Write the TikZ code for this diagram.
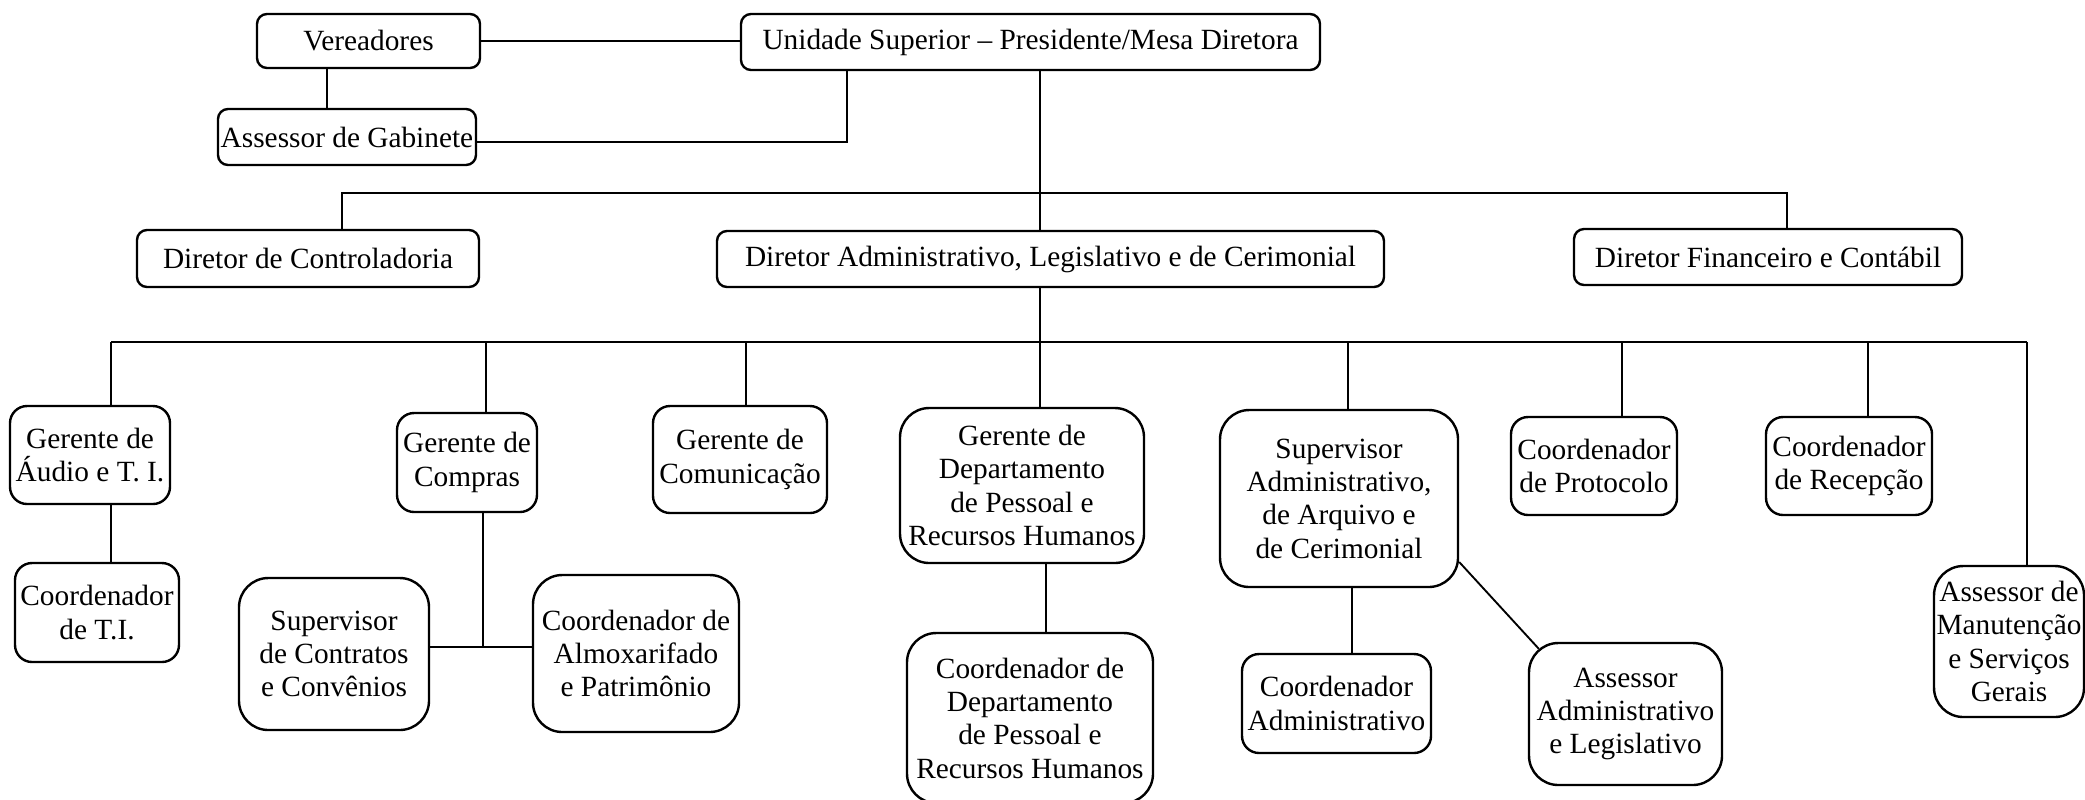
\documentclass[tikz,border=0pt]{standalone}
\usepackage{fontspec}
\setmainfont{Liberation Serif}
\usetikzlibrary{calc}
\newcommand{\bnode}[7]{%
  \pgfmathsetmacro{\bcx}{(#3+#5)/2}\pgfmathsetmacro{\bcy}{(#4+#6)/2}%
  \pgfmathsetmacro{\bw}{(#5-#3)*0.375}\pgfmathsetmacro{\bh}{(#6-#4)*0.375}%
  \node[bx,#2,minimum width=\bw pt,minimum height=\bh pt] (#1) at (\bcx,\bcy) {#7};}
\begin{document}
\begin{tikzpicture}[x=0.375pt,y=-0.375pt,
  bx/.style={draw, line width=0.9pt, fill=white, inner sep=0pt, align=center, font=\fontsize{11}{12.5}\selectfont},
  r1/.style={rounded corners=3.75pt},
  r2/.style={rounded corners=6.4pt},
  r3/.style={rounded corners=11pt},
  ln/.style={line width=0.7pt}]
\useasboundingbox (0,0) rectangle (2085,799);
% boxes
\bnode{ver}{r1}{257}{14}{480}{68}{Vereadores}
\bnode{uni}{r1}{741}{14}{1320}{70}{Unidade Superior -- Presidente/Mesa Diretora}
\bnode{ass}{r1}{218}{109}{476}{165}{Assessor de Gabinete}
\bnode{ctrl}{r1}{137}{230}{479}{287}{Diretor de Controladoria}
\bnode{adm}{r1}{717}{231}{1384}{287}{Diretor Administrativo, Legislativo e de Cerimonial}
\bnode{fin}{r1}{1574}{229}{1962}{285}{Diretor Financeiro e Contábil}
\bnode{gaud}{r2}{10}{406}{170}{504}{Gerente de\\Áudio e T. I.}
\bnode{cti}{r2}{15}{563}{179}{662}{Coordenador\\de T.I.}
\bnode{gcomp}{r2}{397}{413}{537}{512}{Gerente de\\Compras}
\bnode{scont}{r3}{239}{578}{429}{730}{Supervisor\\de Contratos\\e Convênios}
\bnode{calm}{r3}{533}{575}{739}{732}{Coordenador de\\Almoxarifado\\e Patrimônio}
\bnode{gcom}{r2}{653}{406}{827}{513}{Gerente de\\Comunicação}
\bnode{gdep}{r3}{900}{408}{1144}{563}{Gerente de\\Departamento\\de Pessoal e\\Recursos Humanos}
\bnode{cdep}{r3}{907}{633}{1153}{803}{Coordenador de\\Departamento\\de Pessoal e\\Recursos Humanos}
\bnode{sadm}{r3}{1220}{410}{1458}{587}{Supervisor\\Administrativo,\\de Arquivo e\\de Cerimonial}
\bnode{cadm}{r2}{1242}{654}{1431}{753}{Coordenador\\Administrativo}
\bnode{aadm}{r3}{1529}{643}{1722}{785}{Assessor\\Administrativo\\e Legislativo}
\bnode{cprot}{r2}{1511}{417}{1677}{515}{Coordenador\\de Protocolo}
\bnode{crec}{r2}{1766}{417}{1932}{515}{Coordenador\\de Recepção}
\bnode{aman}{r3}{1934}{566}{2084}{717}{Assessor de\\Manutenção\\e Serviços\\Gerais}
% helper coordinates
\coordinate (va) at (327,0);
\coordinate (ua) at (847,142);
\coordinate (mx) at (1040,193);
\coordinate (b2l) at (342,193);
\coordinate (b2r) at (1787,193);
\coordinate (d1) at (111,342);
\coordinate (d2) at (486,342);
\coordinate (d3) at (746,342);
\coordinate (d4) at (1040,342);
\coordinate (d5) at (1348,342);
\coordinate (d6) at (1622,342);
\coordinate (d7) at (1868,342);
\coordinate (d8) at (2027,342);
\coordinate (cj) at (483,647);
\coordinate (cg) at (1046,0);
\coordinate (cs) at (1352,0);
% connectors
\draw[ln] (ver.east) -- (ver.east -| uni.west);
\draw[ln] (ver.south -| va) -- (ass.north -| va);
\draw[ln] (uni.south -| ua) |- (ass.east |- ua);
\draw[ln] (uni.south -| mx) -- (adm.north -| mx);
\draw[ln] (ctrl.north -| b2l) |- (b2r) -- (fin.north -| b2r);
\draw[ln] (adm.south -| d4) -- (d4);
\draw[ln] (d1) -- (d8);
\draw[ln] (d1) -- (gaud.north -| d1);
\draw[ln] (d2) -- (gcomp.north -| d2);
\draw[ln] (d3) -- (gcom.north -| d3);
\draw[ln] (d4) -- (gdep.north -| d4);
\draw[ln] (d5) -- (sadm.north -| d5);
\draw[ln] (d6) -- (cprot.north -| d6);
\draw[ln] (d7) -- (crec.north -| d7);
\draw[ln] (d8) -- (aman.north -| d8);
\draw[ln] (gaud.south -| d1) -- (cti.north -| d1);
\draw[ln] (gcomp.south -| cj) -- (cj);
\draw[ln] (scont.east |- cj) -- (calm.west |- cj);
\draw[ln] (gdep.south -| cg) -- (cdep.north -| cg);
\draw[ln] (sadm.south -| cs) -- (cadm.north -| cs);
\draw[ln] ($(sadm.east)+(0,63.5)$) -- ($(aadm.north west)+(11,7)$);
\end{tikzpicture}
\end{document}
